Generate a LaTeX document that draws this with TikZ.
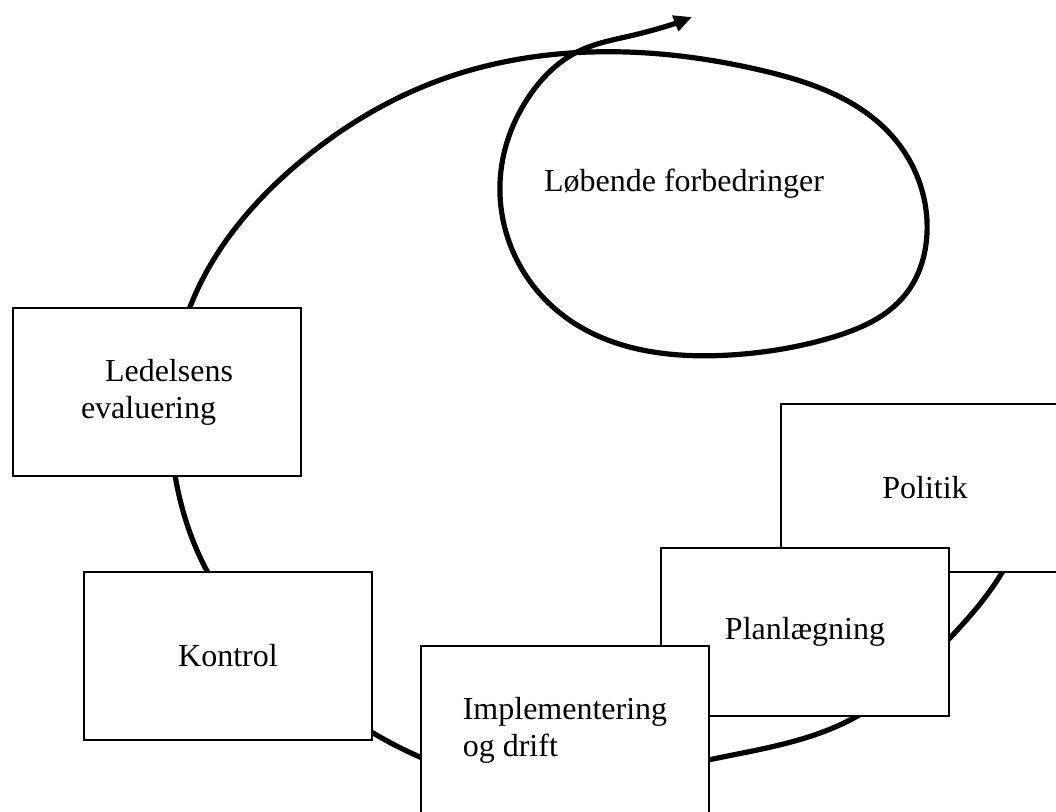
\documentclass[tikz,border=0pt]{standalone}
\usepackage{fontspec}
\setmainfont{Liberation Serif}
\usetikzlibrary{arrows.meta,hobby}

\begin{document}
\begin{tikzpicture}[x=0.5pt, y=-0.5pt,
  every node/.style = {font=\fontsize{16}{18.5}\selectfont},
  box/.style = {shape=rectangle, draw, fill=white, line width=1pt,
    minimum width=144pt, minimum height=84pt, anchor=north west, align=left},
  spiral/.style = {line width=2.6pt, -{Triangle[length=9pt,width=8pt]},
    use Hobby shortcut}]
  \useasboundingbox (0,0) rectangle (1056,811);
  % the spiral goes first, the boxes cover it
  \draw[spiral] (1035,470) .. (1003,571) .. (948,640) .. (850,720)
    .. (708,760) .. (565,785) .. (420,757) .. (300,680) .. (207,571)
    .. (175,475) .. (190,307) .. (300,162) .. (440,80) .. (590,52)
    .. (760,70) .. (893,137) .. (927,233) .. (905,295) .. (830,338)
    .. (730,355) .. (560,313) .. (500,183) .. (530,95) .. (577,52)
    .. (634,35) .. (692,17);
  \node (loop) at (684,184) {Løbende forbedringer};
  \node[box] (politik) at (780,403) {Politik};
  \node[box] (plan) at (660,547) {Planlægning};
  \node[box] (impl) at (420,645) {Implementering\\og drift};
  \node[box] (kontrol) at (83,571) {Kontrol};
  \node[box] (ledelse) at (12,307) {\hspace*{12pt}Ledelsens\\evaluering};
\end{tikzpicture}
\end{document}
